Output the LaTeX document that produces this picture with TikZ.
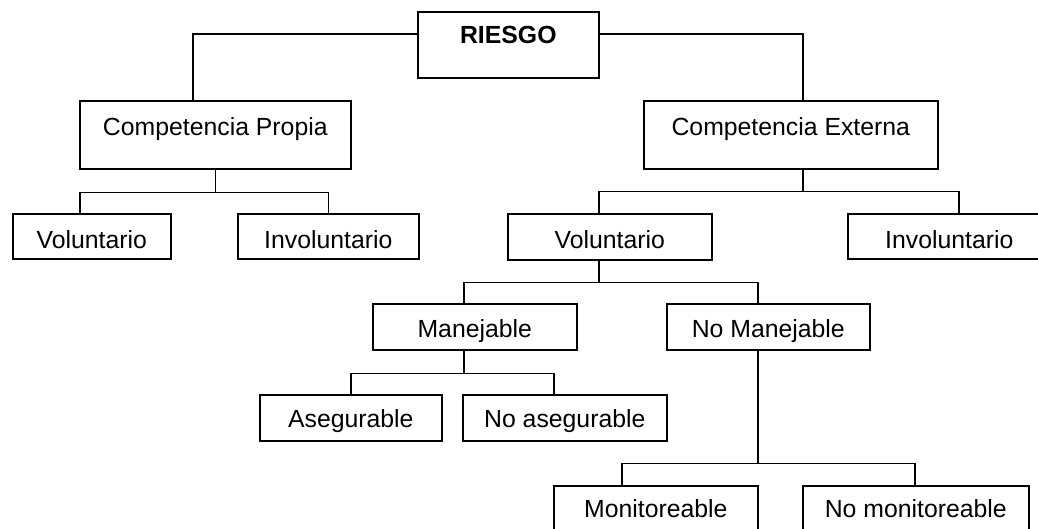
\documentclass[tikz,border=0pt]{standalone}
\usepackage{fontspec}
\setmainfont{Liberation Sans}
\newcommand\pxl{0.5pt}
\begin{document}
\begin{tikzpicture}[x=0.5pt, y=-0.5pt,
  box/.style={draw, line width=0.8pt, inner sep=0pt, anchor=north west,
    font=\fontsize{12.4}{14}\selectfont},
  wire/.style={line width=0.8pt}]
\useasboundingbox (0,0) rectangle (1038,529);
\clip (0,0) rectangle (1038,529);

% boxes: position = top-left corner, text height = baseline below the top edge
\node[box, minimum width=181*\pxl, text height=32*\pxl, text depth=34*\pxl,
  font=\fontsize{12.4}{14}\selectfont\bfseries] (r) at (417,11) {RIESGO};
\node[box, minimum width=271*\pxl, text height=35*\pxl, text depth=33*\pxl] (cp) at (79,100) {Competencia Propia};
\node[box, minimum width=294*\pxl, text height=34.5*\pxl, text depth=33.5*\pxl] (ce) at (643,100) {Competencia Externa};
\node[box, minimum width=158*\pxl, text height=34.5*\pxl, text depth=10.5*\pxl] (vl) at (12,213) {Voluntario};
\node[box, minimum width=181*\pxl, text height=34.5*\pxl, text depth=10.5*\pxl] (il) at (237,213) {Involuntario};
\node[box, minimum width=204*\pxl, text height=34.5*\pxl, text depth=11.5*\pxl] (vr) at (507,213) {Voluntario};
\node[box, minimum width=203*\pxl, text height=34.5*\pxl, text depth=10.5*\pxl] (ir) at (847,213) {Involuntario};
\node[box, minimum width=204*\pxl, text height=33.5*\pxl, text depth=12.5*\pxl] (m) at (372,303) {Manejable};
\node[box, minimum width=203*\pxl, text height=33.5*\pxl, text depth=12.5*\pxl] (nm) at (666,303) {No Manejable};
\node[box, minimum width=182*\pxl, text height=33*\pxl, text depth=13*\pxl] (a) at (259,394) {Asegurable};
\node[box, minimum width=204*\pxl, text height=33*\pxl, text depth=13*\pxl] (na) at (462,394) {No asegurable};
\node[box, minimum width=204*\pxl, text height=32*\pxl, text depth=16*\pxl] (mo) at (553,485) {Monitoreable};
\node[box, minimum width=226*\pxl, text height=32*\pxl, text depth=16*\pxl] (nmo) at (802,485) {No monitoreable};

% first level
\draw[wire] ([shift={(0,-11)}]r.west) -| ([shift={(-22.5,0)}]cp.north);
\draw[wire] ([shift={(0,-11)}]r.east) -| ([shift={(12,0)}]ce.north);

% Competencia Propia
\draw[wire] (cp.south) -- ++(0,23) coordinate (j1);
\draw[wire] ([shift={(-12,0)}]vl.north) |- (j1);
\draw[wire] (il.north) |- (j1);

% Competencia Externa
\draw[wire] ([shift={(12,0)}]ce.south) -- ++(0,22) coordinate (j2);
\draw[wire] ([shift={(-11,0)}]vr.north) |- (j2);
\draw[wire] ([shift={(9.5,0)}]ir.north) |- (j2);

% Voluntario
\draw[wire] ([shift={(-11,0)}]vr.south) -- ++(0,22) coordinate (j3);
\draw[wire] ([shift={(-11,0)}]m.north) |- (j3);
\draw[wire] ([shift={(-10.5,0)}]nm.north) |- (j3);

% Manejable
\draw[wire] ([shift={(-11,0)}]m.south) -- ++(0,23) coordinate (j4);
\draw[wire] (a.north) |- (j4);
\draw[wire] ([shift={(-11,0)}]na.north) |- (j4);

% No Manejable
\draw[wire] ([shift={(-10.5,0)}]nm.south) -- ++(0,113) coordinate (j5);
\draw[wire] ([shift={(-34,0)}]mo.north) |- (j5);
\draw[wire] ([shift={(-1,0)}]nmo.north) |- (j5);
\end{tikzpicture}
\end{document}
